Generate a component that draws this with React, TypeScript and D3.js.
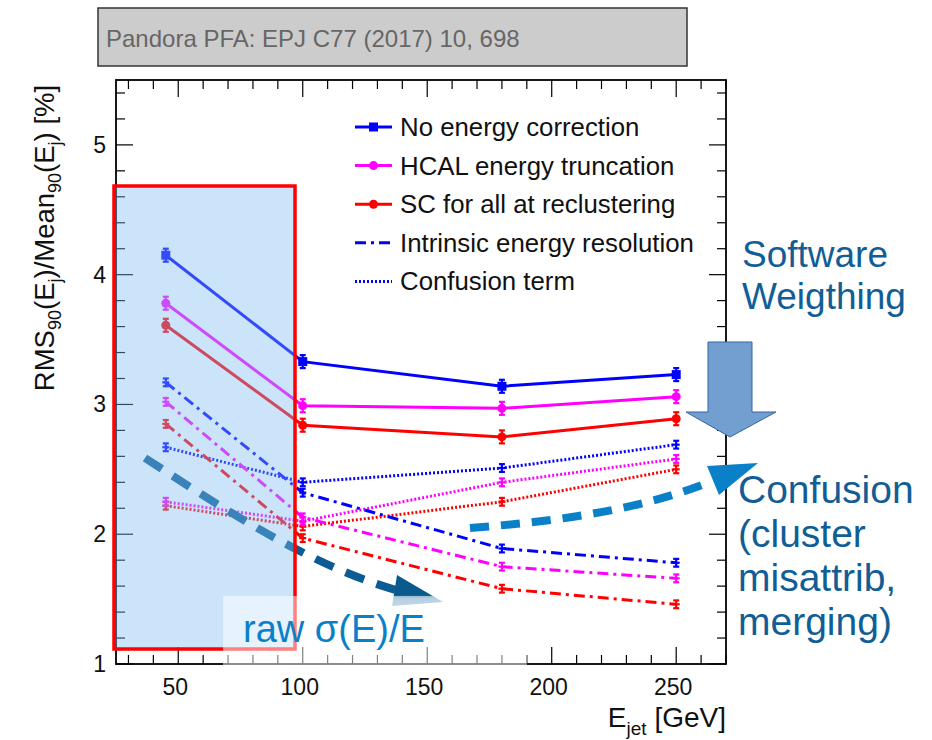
import React from "react";
import * as d3 from "d3";

// Jet energies [GeV]
const energies = [45, 100, 180, 250];

// RMS90/Mean90 [%] for each reconstruction variant
const noCorrection = [4.15, 3.33, 3.14, 3.23];
const hcalTruncation = [3.78, 2.99, 2.97, 3.06];
const scReclustering = [3.61, 2.84, 2.75, 2.89];

// Intrinsic energy resolution (dash-dot)
const intrinsicNoCorr = [3.17, 2.32, 1.89, 1.78];
const intrinsicHcal = [3.02, 2.13, 1.75, 1.66];
const intrinsicSc = [2.85, 1.97, 1.58, 1.46];

// Confusion term (dotted)
const confusionNoCorr = [2.67, 2.4, 2.51, 2.69];
const confusionHcal = [2.25, 2.1, 2.4, 2.58];
const confusionSc = [2.22, 2.06, 2.25, 2.5];

const legendLabels = [
  "No energy correction",
  "HCAL energy truncation",
  "SC for all at reclustering",
  "Intrinsic energy resolution",
  "Confusion term",
];

const xTickValues = [50, 100, 150, 200, 250];
const yTickValues = [1, 2, 3, 4, 5];

const W = 932;
const H = 740;
const FONT = "'Liberation Sans', Arial, Helvetica, sans-serif";

const BLUE = "#0000ff";
const MAGENTA = "#ff00ff";
const RED = "#ff0000";

type Style = "solid" | "dashdot" | "dotted";
type Series = { values: number[]; color: string; style: Style; marker?: "square" | "circle"; err: number };

const series: Series[] = [
  { values: confusionSc, color: RED, style: "dotted", err: 0.03 },
  { values: confusionHcal, color: MAGENTA, style: "dotted", err: 0.03 },
  { values: confusionNoCorr, color: BLUE, style: "dotted", err: 0.03 },
  { values: intrinsicSc, color: RED, style: "dashdot", err: 0.03 },
  { values: intrinsicHcal, color: MAGENTA, style: "dashdot", err: 0.03 },
  { values: intrinsicNoCorr, color: BLUE, style: "dashdot", err: 0.03 },
  { values: scReclustering, color: RED, style: "solid", marker: "circle", err: 0.05 },
  { values: hcalTruncation, color: MAGENTA, style: "solid", marker: "circle", err: 0.05 },
  { values: noCorrection, color: BLUE, style: "solid", marker: "square", err: 0.05 },
];

const legendItems: { color: string; style: Style; marker?: "square" | "circle" }[] = [
  { color: BLUE, style: "solid", marker: "square" },
  { color: MAGENTA, style: "solid", marker: "circle" },
  { color: RED, style: "solid", marker: "circle" },
  { color: BLUE, style: "dashdot" },
  { color: BLUE, style: "dotted" },
];

const dashFor = (s: Style) => (s === "solid" ? undefined : s === "dashdot" ? "11 5 3 5" : "2 2");

function Marker({ x, y, kind, color }: { x: number; y: number; kind?: "square" | "circle"; color: string }) {
  if (kind === "square") return <rect x={x - 4.5} y={y - 4.5} width={9} height={9} fill={color} />;
  if (kind === "circle") return <circle cx={x} cy={y} r={4.5} fill={color} />;
  return null;
}

export default function App() {
  const x = d3.scaleLinear().domain([25, 270]).range([116, 726]);
  const y = d3.scaleLinear().domain([1, 5.5]).range([664, 80]);
  const [x0, x1] = x.range();
  const [yb, yt] = y.range();

  const xMinor = d3.range(30, 271, 10);
  const yMinor = d3.range(1, 5.5001, 0.2);

  const line = d3
    .line<[number, number]>()
    .x((d) => x(d[0]))
    .y((d) => y(d[1]));

  const rawPath = "M145,458 C228,512 312,566 396,590";
  const confPath = "M470,528 C560,521 640,510 712,481";

  return (
    <svg width={W} height={H} style={{ position: "absolute", left: 0, top: 0, background: "#fff" }} fontFamily={FONT}>
      <defs>
        <linearGradient id="rawHead" x1="0" y1="0" x2="0" y2="1">
          <stop offset="0" stopColor="#0a5a8e" />
          <stop offset="0.65" stopColor="#0a5a8e" />
          <stop offset="0.75" stopColor="#6e9fc4" />
          <stop offset="1" stopColor="#7eaccd" />
        </linearGradient>
      </defs>

      {/* citation banner */}
      <rect x={98} y={8} width={589} height={58} fill="#cccccc" stroke="#333" strokeWidth={1.5} />
      <text x={106} y={47} fontSize={24} fill="#666">
        Pandora PFA: EPJ C77 (2017) 10, 698
      </text>

      {/* frame ticks */}
      <g stroke="#000" strokeWidth={1.2}>
        {xMinor.map((v) => {
          const major = v % 50 === 0;
          const len = major ? 17 : 9;
          return (
            <g key={"xt" + v}>
              <line x1={x(v)} x2={x(v)} y1={yb} y2={yb - len} />
              <line x1={x(v)} x2={x(v)} y1={yt} y2={yt + len} />
            </g>
          );
        })}
        {yMinor.map((v, i) => {
          const major = i % 5 === 0;
          const len = major ? 17 : 9;
          return (
            <g key={"yt" + i}>
              <line x1={x0} x2={x0 + len} y1={y(v)} y2={y(v)} />
              <line x1={x1} x2={x1 - len} y1={y(v)} y2={y(v)} />
            </g>
          );
        })}
      </g>
      <rect x={x0} y={yt} width={x1 - x0} height={yb - yt} fill="none" stroke="#000" strokeWidth={1.8} />

      {/* tick labels */}
      {xTickValues.map((v) => (
        <text key={"xl" + v} x={x(v) - 3} y={695} fontSize={23} textAnchor="middle" fill="#111">
          {v}
        </text>
      ))}
      {yTickValues.map((v) => (
        <text key={"yl" + v} x={106} y={y(v) + 8} fontSize={23} textAnchor="end" fill="#111">
          {v}
        </text>
      ))}

      {/* axis titles */}
      <text x={726} y={727} fontSize={28} textAnchor="end" fill="#111">
        E
        <tspan fontSize={19} dy={8}>jet</tspan>
        <tspan dy={-8}> [GeV]</tspan>
      </text>
      <text transform="translate(54,238) rotate(-90)" fontSize={27.5} textAnchor="middle" fill="#111">
        RMS
        <tspan fontSize={18} dy={7}>90</tspan>
        <tspan dy={-7}>(E</tspan>
        <tspan fontSize={18} dy={7}>j</tspan>
        <tspan dy={-7}>)/Mean</tspan>
        <tspan fontSize={18} dy={7}>90</tspan>
        <tspan dy={-7}>(E</tspan>
        <tspan fontSize={18} dy={7}>j</tspan>
        <tspan dy={-7}>) [%]</tspan>
      </text>

      {/* data series */}
      {series.map((s, si) => {
        const pts = energies.map((e, i) => [e, s.values[i]] as [number, number]);
        return (
          <g key={"s" + si}>
            <path d={line(pts) || ""} fill="none" stroke={s.color} strokeWidth={3} strokeDasharray={dashFor(s.style)} />
            {pts.map(([e, v], i) => (
              <g key={i} stroke={s.color} strokeWidth={2.2}>
                <line x1={x(e)} x2={x(e)} y1={y(v - s.err)} y2={y(v + s.err)} />
                <line x1={x(e) - 3} x2={x(e) + 3} y1={y(v - s.err)} y2={y(v - s.err)} />
                <line x1={x(e) - 3} x2={x(e) + 3} y1={y(v + s.err)} y2={y(v + s.err)} />
                <line x1={x(e) - 3.5} x2={x(e) + 3.5} y1={y(v)} y2={y(v)} />
              </g>
            ))}
            {pts.map(([e, v], i) => (
              <Marker key={"m" + i} x={x(e)} y={y(v)} kind={s.marker} color={s.color} />
            ))}
          </g>
        );
      })}

      {/* raw resolution trend (dashes) */}
      <path d={rawPath} fill="none" stroke="#0b5c94" strokeWidth={8} strokeDasharray="20 13" />

      {/* legend */}
      {legendItems.map((it, i) => {
        const cy = 127 + i * 38.6;
        return (
          <g key={"lg" + i}>
            <line x1={355} x2={392} y1={cy} y2={cy} stroke={it.color} strokeWidth={3} strokeDasharray={dashFor(it.style)} />
            <Marker x={373.5} y={cy} kind={it.marker} color={it.color} />
            <text x={400} y={cy + 9} fontSize={25.8} fill="#111">
              {legendLabels[i]}
            </text>
          </g>
        );
      })}

      {/* low-energy region highlight */}
      <rect x={114} y={186} width={181} height={463} fill="rgb(128,188,243)" fillOpacity={0.4} />
      <rect x={114} y={186} width={181} height={463} fill="none" stroke={RED} strokeWidth={3.5} />

      {/* raw arrowhead */}
      <polygon points="397,575 443,602 392,606" fill="url(#rawHead)" />

      {/* confusion trend arrow */}
      <path d={confPath} fill="none" stroke="#0a80c8" strokeWidth={8} strokeDasharray="19 12" />
      <polygon points="707,466 758,463 719,495" fill="#0a80c8" />

      {/* software weighting block arrow */}
      <polygon
        points="708,342 752,342 752,412 776,412 730,437 686,412 708,412"
        fill="#729fcf"
        stroke="#3465a4"
        strokeWidth={1}
      />

      {/* label backdrop */}
      <rect x={223} y={596} width={304} height={74} fill="#fff" fillOpacity={0.5} />
      <text x={243} y={642} fontSize={38} fill="#0a80c8">
        raw σ(E)/E
      </text>

      {/* annotations */}
      <g fill="#115e96" fontSize={37}>
        <text x={742} y={267}>Software</text>
        <text x={742} y={309}>Weigthing</text>
      </g>
      <g fill="#115e96" fontSize={39}>
        <text x={738} y={503}>Confusion</text>
        <text x={738} y={547}>(cluster</text>
        <text x={738} y={591}>misattrib,</text>
        <text x={738} y={635}>merging)</text>
      </g>
    </svg>
  );
}
